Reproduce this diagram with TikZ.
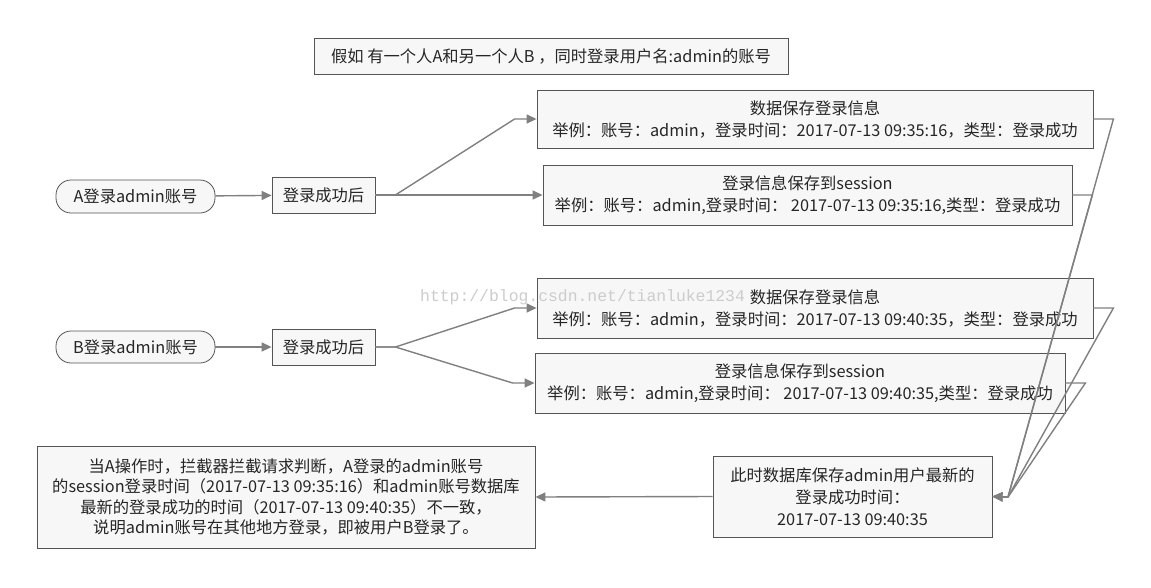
\documentclass[tikz,border=0pt]{standalone}
\usepackage{fontspec}
\setmainfont{Noto Sans CJK SC}
\newfontfamily\wmfont{Liberation Mono}
\usetikzlibrary{arrows.meta}
\definecolor{boxfill}{HTML}{F7F7F7}
\definecolor{boxline}{HTML}{555555}
\definecolor{conn}{HTML}{808080}
\begin{document}
\begin{tikzpicture}[x=1pt,y=-1pt,
  box/.style={draw=boxline,line width=0.8pt,fill=boxfill,align=center,inner sep=0pt,
    font=\fontsize{16.3}{22}\selectfont,text=black!85},
  startbox/.style={box,rounded corners=15pt},
  conn/.style={draw=conn,line width=1.4pt,-{Triangle[length=10pt,width=9pt]}}]
\useasboundingbox[fill=white] (0,0) rectangle (1151,587);
\node[box,minimum width=474,minimum height=36] (title) at (551,56) {假如 有一个人A和另一个人B ，同时登录用户名:admin的账号};
\node[startbox,minimum width=159,minimum height=33] (A) at (135.5,196.5) {A登录admin账号};
\node[box,minimum width=103,minimum height=36] (As) at (323.5,195) {登录成功后};
\node[box,minimum width=556,minimum height=58] (b1) at (815,119) {数据保存登录信息\\举例：账号：admin，登录时间：2017-07-13 09:35:16，类型：登录成功};
\node[box,minimum width=529,minimum height=60] (b2) at (807.5,195) {登录信息保存到session\\举例：账号：admin,登录时间： 2017-07-13 09:35:16,类型：登录成功};
\node[startbox,minimum width=159,minimum height=32] (B) at (135.5,347) {B登录admin账号};
\node[box,minimum width=103,minimum height=36] (Bs) at (323.5,347) {登录成功后};
\node[box,minimum width=556,minimum height=60] (b3) at (815,308) {数据保存登录信息\\举例：账号：admin，登录时间：2017-07-13 09:40:35，类型：登录成功};
\node[box,minimum width=530,minimum height=60] (b4) at (800,383) {登录信息保存到session\\举例：账号：admin,登录时间： 2017-07-13 09:40:35,类型：登录成功};
\node[box,minimum width=279,minimum height=81] (db) at (852.5,496.5) {此时数据库保存admin用户最新的\\登录成功时间：\\2017-07-13 09:40:35};
\node[box,minimum width=498,minimum height=102,font=\fontsize{16.3}{20.5}\selectfont] (res) at (286,497) {当A操作时，拦截器拦截请求判断，A登录的admin账号\\的session登录时间（2017-07-13 09:35:16）和admin账号数据库\\最新的登录成功的时间（2017-07-13 09:40:35）不一致，\\说明admin账号在其他地方登录，即被用户B登录了。};
\coordinate (conv) at (1008,497);
\path[conn] (A) -- (As);
\path[conn] (As.east) -- ++(20,0) -- ([xshift=-22pt]b1.west) -- (b1.west);
\path[conn] (As.east) -- (b2.west);
\path[conn] (B) -- (Bs);
\path[conn] (Bs.east) -- ++(20,0) -- ([xshift=-22pt]b3.west) -- (b3.west);
\path[conn] (Bs.east) -- ++(20,0) -- ([xshift=-22pt]b4.west) -- (b4.west);
\path[conn] (b1.east) -- ++(20,0) -- (conv) -- (db.east);
\path[conn] (b2.east) -- ++(20,0) -- (conv) -- (db.east);
\path[conn] (b3.east) -- ++(20,0) -- (conv) -- (db.east);
\path[conn] (b4.east) -- ++(20,0) -- (conv) -- (db.east);
\path[conn] (db.west) -- (res.east);
\node[anchor=west,inner sep=0pt,text=black!20,font=\wmfont\fontsize{16.4}{18}\selectfont] (wm) at (420,297) {http://blog.csdn.net/tianluke1234};
\end{tikzpicture}
\end{document}
